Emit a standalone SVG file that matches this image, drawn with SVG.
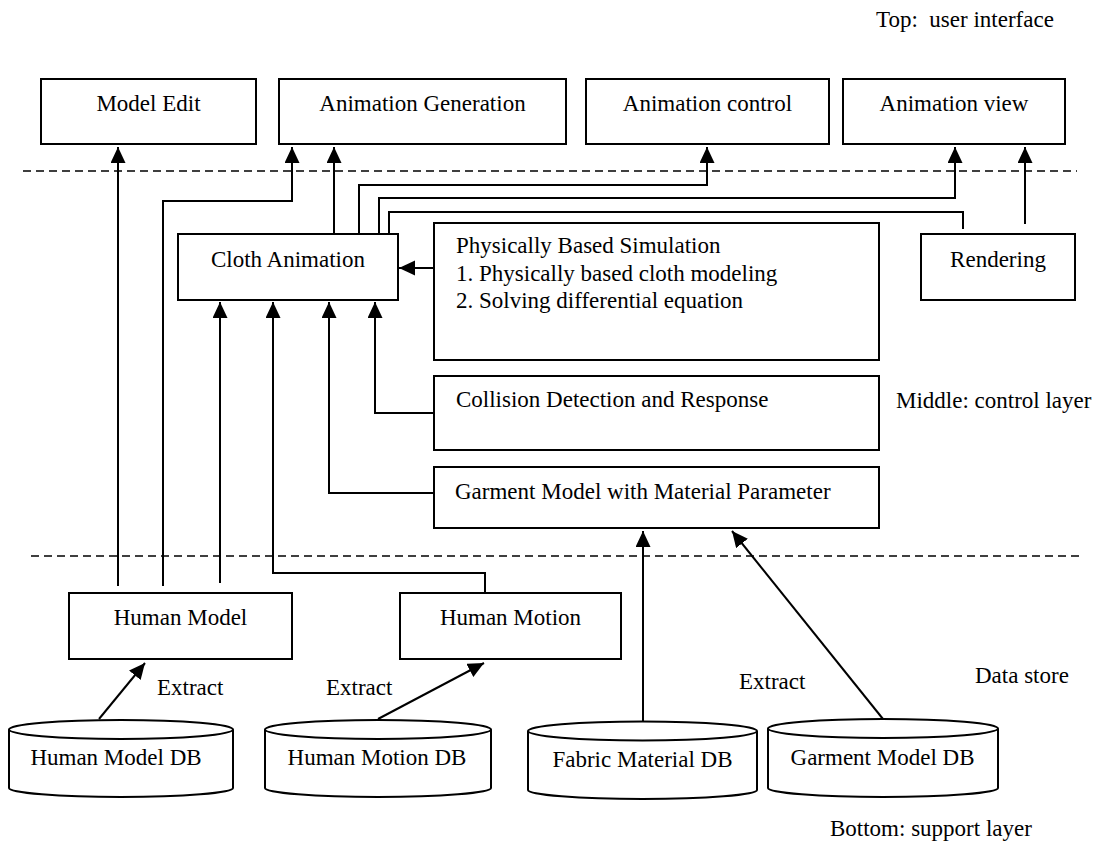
<svg xmlns="http://www.w3.org/2000/svg" width="1103" height="843" viewBox="0 0 1103 843">
<style>
.box{fill:#fff;stroke:#000;stroke-width:2}
.db{fill:#fff;stroke:#000;stroke-width:2}
.t{font-family:"Liberation Serif","Times New Roman",serif;font-size:23px;fill:#000}
.c{text-anchor:middle}
.ln{fill:none;stroke:#000;stroke-width:2}
.dash{fill:none;stroke:#000;stroke-width:1.6;stroke-dasharray:8 5}
</style>
<defs>
<marker id="ah" markerUnits="userSpaceOnUse" markerWidth="17" markerHeight="16" refX="16" refY="7.5" orient="auto">
<path d="M0,0 L16,7.5 L0,15 z" fill="#000"/>
</marker>
</defs>
<rect width="1103" height="843" fill="#fff"/>

<g id="layers">
<line class="dash" x1="23" y1="171" x2="1077" y2="171"/>
<line class="dash" x1="31" y1="556" x2="1084" y2="556"/>
<text class="t" x="876" y="27" xml:space="preserve">Top:  user interface</text>
<text class="t" x="896" y="408">Middle: control layer</text>
<text class="t" x="975" y="683">Data store</text>
<text class="t" x="830" y="836">Bottom: support layer</text>
</g>

<g id="connectors">
<path class="ln" d="M118,586 V147" marker-end="url(#ah)"/>
<path class="ln" d="M163,586 V201 H292 V147" marker-end="url(#ah)"/>
<path class="ln" d="M220,583 V302" marker-end="url(#ah)"/>
<path class="ln" d="M485,593 V573 H273 V302" marker-end="url(#ah)"/>
<path class="ln" d="M434,493 H329 V302" marker-end="url(#ah)"/>
<path class="ln" d="M434,413 H375 V302" marker-end="url(#ah)"/>
<path class="ln" d="M434,268 H399" marker-end="url(#ah)"/>
<path class="ln" d="M334,234 V147" marker-end="url(#ah)"/>
<path class="ln" d="M359,234 V185 H707 V147" marker-end="url(#ah)"/>
<path class="ln" d="M379,234 V198 H955 V147" marker-end="url(#ah)"/>
<path class="ln" d="M389,234 V212 H963 V229"/>
<path class="ln" d="M1025,224 V147" marker-end="url(#ah)"/>
<path class="ln" d="M643,722 V531" marker-end="url(#ah)"/>
<path class="ln" d="M883,719 L732,531" marker-end="url(#ah)"/>
<path class="ln" d="M99,719 L145,663" marker-end="url(#ah)"/>
<path class="ln" d="M378,719 L484,663" marker-end="url(#ah)"/>
<text class="t" x="157" y="695">Extract</text>
<text class="t" x="326" y="695">Extract</text>
<text class="t" x="739" y="689">Extract</text>
</g>

<g id="model-edit">
<rect class="box" x="41" y="79" width="215" height="65"/>
<text class="t c" x="148.5" y="111">Model Edit</text>
</g>
<g id="animation-generation">
<rect class="box" x="279" y="79" width="287" height="65"/>
<text class="t c" x="422.5" y="111">Animation Generation</text>
</g>
<g id="animation-control">
<rect class="box" x="586" y="79" width="243" height="65"/>
<text class="t c" x="707.5" y="111">Animation control</text>
</g>
<g id="animation-view">
<rect class="box" x="843" y="79" width="222" height="65"/>
<text class="t c" x="954" y="111">Animation view</text>
</g>

<g id="cloth-animation">
<rect class="box" x="178" y="234" width="220" height="66"/>
<text class="t c" x="288" y="267">Cloth Animation</text>
</g>
<g id="physically-based-simulation">
<rect class="box" x="434" y="223" width="445" height="137"/>
<text class="t" x="456" y="253">Physically Based Simulation</text>
<text class="t" x="456" y="281">1. Physically based cloth modeling</text>
<text class="t" x="456" y="308">2. Solving differential equation</text>
</g>
<g id="rendering">
<rect class="box" x="921" y="234" width="154" height="66"/>
<text class="t c" x="998" y="267">Rendering</text>
</g>
<g id="collision">
<rect class="box" x="434" y="376" width="445" height="74"/>
<text class="t" x="456" y="407">Collision Detection and Response</text>
</g>
<g id="garment-model">
<rect class="box" x="434" y="467" width="445" height="61"/>
<text class="t" x="455" y="499">Garment Model with Material Parameter</text>
</g>

<g id="human-model">
<rect class="box" x="69" y="593" width="223" height="66"/>
<text class="t c" x="180.5" y="625">Human Model</text>
</g>
<g id="human-motion">
<rect class="box" x="400" y="593" width="221" height="66"/>
<text class="t c" x="510.5" y="625">Human Motion</text>
</g>

<g id="human-model-db">
<path class="db" d="M9,729.5 V788 A112,9 0 0 0 233,788 V729.5"/>
<ellipse class="db" cx="121" cy="729.5" rx="112" ry="9.5"/>
<text class="t c" x="116" y="765">Human Model DB</text>
</g>
<g id="human-motion-db">
<path class="db" d="M265,729.5 V788 A113,9 0 0 0 491,788 V729.5"/>
<ellipse class="db" cx="378" cy="729.5" rx="113" ry="9.5"/>
<text class="t c" x="377" y="765">Human Motion DB</text>
</g>
<g id="fabric-material-db">
<path class="db" d="M528,731 V790 A114.5,9 0 0 0 757,790 V731"/>
<ellipse class="db" cx="642.5" cy="731" rx="114.5" ry="9.5"/>
<text class="t c" x="642.5" y="767">Fabric Material DB</text>
</g>
<g id="garment-model-db">
<path class="db" d="M768,728.5 V788 A115,9 0 0 0 998,788 V728.5"/>
<ellipse class="db" cx="883" cy="728.5" rx="115" ry="9.5"/>
<text class="t c" x="882.5" y="765">Garment Model DB</text>
</g>
</svg>
